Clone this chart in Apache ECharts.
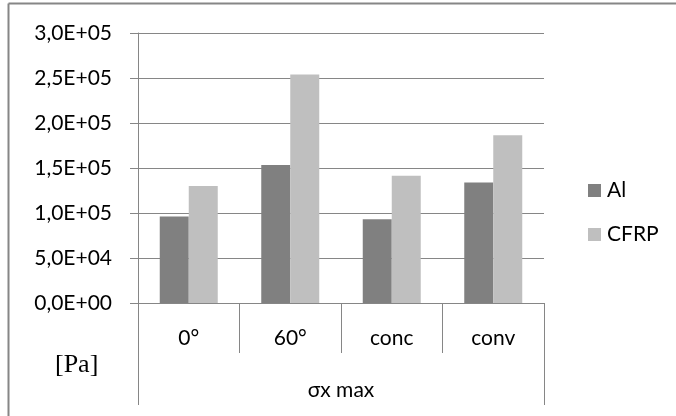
<!DOCTYPE html>
<html>
<head>
<meta charset="utf-8">
<script src="https://cdn.jsdelivr.net/npm/echarts@6/dist/echarts.min.js"></script>
<style>
  html, body { margin: 0; padding: 0; background: #fff; }
  #chart { width: 676px; height: 416px; }
</style>
</head>
<body>
<div id="chart"></div>
<script>
// Maximum sigma_x stress per configuration, in Pa
const categories = ['0°', '60°', 'conc', 'conv'];
const groupLabel = ['σx max'];
const seriesNames = ['Al', 'CFRP'];
const alValues = [96000, 153300, 93000, 133800];
const cfrpValues = [130000, 253800, 141500, 186300];
const unitLabel = '[Pa]';

const AXIS_GREY = '#868686';
const FONT = 'Lato';
const FONT_SIZE = 21;

// Excel-like scientific format with a decimal comma: 2,5E+05
function sciComma(v) {
  const [m, e] = Number(v).toExponential(1).split('e');
  const sign = e[0] === '-' ? '-' : '+';
  const exp = e.replace(/[+-]/, '').padStart(2, '0');
  return m.replace('.', ',') + 'E' + sign + exp;
}

const chart = echarts.init(document.getElementById('chart'), null, { renderer: 'canvas' });

chart.setOption({
  animation: false,
  backgroundColor: '#ffffff',
  textStyle: { fontFamily: FONT },
  grid: { left: 138, right: 132, top: 33, bottom: 113, containLabel: false },
  legend: {
    orient: 'vertical',
    left: 588,
    top: 180,
    padding: 0,
    icon: 'rect',
    itemWidth: 13,
    itemHeight: 13,
    itemGap: 23,
    textStyle: { fontFamily: FONT, fontSize: FONT_SIZE, color: '#000', padding: [0, 0, 0, 1] },
    data: seriesNames
  },
  xAxis: [
    {
      type: 'category',
      data: categories,
      position: 'bottom',
      axisLine: { show: true, lineStyle: { color: AXIS_GREY, width: 1 } },
      axisTick: { show: true, length: 50, lineStyle: { color: AXIS_GREY, width: 1 } },
      axisLabel: { margin: 25, fontFamily: FONT, fontSize: FONT_SIZE, color: '#000' },
      splitLine: { show: false }
    },
    {
      type: 'category',
      data: groupLabel,
      position: 'bottom',
      axisLine: { show: false },
      axisTick: { show: true, length: 102, lineStyle: { color: AXIS_GREY, width: 1 } },
      axisLabel: { margin: 77, fontFamily: FONT, fontSize: FONT_SIZE, color: '#000' },
      splitLine: { show: false }
    }
  ],
  yAxis: {
    type: 'value',
    min: 0,
    max: 300000,
    interval: 50000,
    axisLine: { show: true, lineStyle: { color: AXIS_GREY, width: 1 } },
    axisTick: { show: true, length: 8, lineStyle: { color: AXIS_GREY, width: 1 } },
    axisLabel: {
      margin: 26,
      fontFamily: FONT,
      fontSize: FONT_SIZE,
      color: '#000',
      formatter: sciComma
    },
    splitLine: { show: true, lineStyle: { color: AXIS_GREY, width: 1 } }
  },
  series: [
    {
      name: seriesNames[0],
      type: 'bar',
      data: alValues,
      barWidth: 29,
      barGap: '0%',
      itemStyle: { color: '#808080' }
    },
    {
      name: seriesNames[1],
      type: 'bar',
      data: cfrpValues,
      barWidth: 29,
      barGap: '0%',
      itemStyle: { color: '#bfbfbf' }
    }
  ],
  graphic: [
    // chart-area frame (left and top edges)
    { type: 'line', shape: { x1: 8.5, y1: 3.5, x2: 8.5, y2: 416 }, style: { stroke: AXIS_GREY, lineWidth: 2 } },
    { type: 'line', shape: { x1: 8.5, y1: 3.5, x2: 676, y2: 3.5 }, style: { stroke: AXIS_GREY, lineWidth: 2 } },
    {
      type: 'text',
      left: 55,
      top: 352,
      style: {
        text: unitLabel,
        fontFamily: 'Liberation Serif',
        fontSize: 26,
        fill: '#000'
      }
    }
  ]
});
</script>
</body>
</html>
